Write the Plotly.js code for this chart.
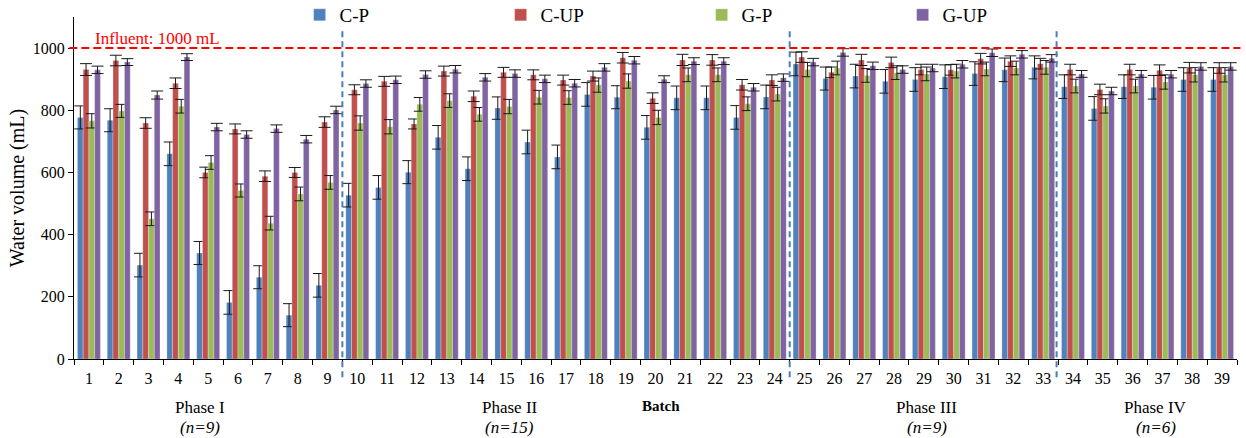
<!DOCTYPE html>
<html>
<head>
<meta charset="utf-8">
<script src="https://cdn.plot.ly/plotly-3.0.1.min.js"></script>
<style>
  html, body { margin: 0; padding: 0; background: #fff; }
  #chart { width: 1246px; height: 438px; }
</style>
</head>
<body>
<div id="chart"></div>
<script>
// Batch numbers (x categories)
const batches = Array.from({length: 39}, (_, i) => String(i + 1));

// Mean effluent water volume per batch (mL)
const cP  = [777,768,302,660,341,182,263,141,237,527,552,601,713,612,807,698,650,851,842,745,840,840,777,843,949,902,910,893,899,908,918,930,938,876,806,876,874,899,899];
const cUP = [931,960,759,887,600,740,588,600,762,866,893,756,926,845,922,914,897,910,969,839,962,962,882,897,971,922,962,954,931,930,966,958,950,931,867,931,929,937,936];
const gP  = [766,798,451,813,632,542,437,531,568,759,747,819,831,787,812,842,841,881,894,777,914,914,821,852,931,936,912,921,917,926,933,936,938,878,814,878,891,914,914];
const gUP = [930,955,849,971,746,722,741,707,801,886,898,915,932,906,918,901,887,938,961,900,958,958,874,905,955,986,943,931,936,948,985,980,967,917,862,917,916,941,941];

// Standard deviations (mL)
const cPErr  = [37,37,38,38,37,38,37,37,38,38,38,37,38,38,36,38,38,38,37,38,38,38,38,38,38,37,38,38,38,38,38,38,37,38,38,38,38,38,38];
const cUPErr = [19,17,17,17,17,16,17,16,17,16,16,16,16,17,16,16,16,16,17,17,18,17,17,17,17,17,18,17,17,17,17,17,17,17,17,17,17,17,17];
const gPErr  = [23,21,22,22,22,21,22,22,22,23,23,22,22,22,23,22,22,23,23,23,22,22,22,22,23,22,22,22,22,22,22,22,22,22,23,22,23,23,23];
const gUPErr = [12,11,13,11,12,12,12,12,12,12,12,12,12,12,12,12,12,12,12,11,11,11,12,12,12,12,12,12,12,12,12,12,12,11,12,11,12,12,12];

const seriesNames = ['C-P', 'C-UP', 'G-P', 'G-UP'];
const seriesColors = ['#4F81BD', '#C0504D', '#9BBB59', '#8064A2'];

// Phase boundaries (between batches 9|10, 24|25, 33|34) and labels
const phaseBreaks = [8.5, 23.5, 32.45];
const phaseLabels = ['Phase I', 'Phase II', 'Phase III', 'Phase IV'];
const phaseCounts = ['(n=9)', '(n=15)', '(n=9)', '(n=6)'];
const phaseLabelPos = [3.72, 14.12, 28.1, 35.77];

const influent = 1000;
const FONT = 'Liberation Serif';

const values = [cP, cUP, gP, gUP];
const errors = [cPErr, cUPErr, gPErr, gUPErr];

const traces = values.map((v, i) => ({
  type: 'bar',
  name: seriesNames[i],
  x: batches,
  y: v,
  marker: { color: seriesColors[i], line: { color: 'rgba(255,255,255,0.45)', width: 0.6 } },
  error_y: { type: 'data', array: errors[i], visible: true, color: '#1a1a1a', thickness: 1, width: 6 }
}));

const shapes = [
  {
    type: 'line', xref: 'paper', yref: 'y',
    x0: -0.004, x1: 1.003, y0: influent, y1: influent,
    line: { color: '#FF0000', width: 2, dash: '8px,4px' }, layer: 'above'
  }
].concat(phaseBreaks.map(b => ({
  type: 'line', xref: 'x', yref: 'paper',
  x0: b, x1: b, y0: -0.053, y1: 0.962,
  line: { color: '#4A7EBB', width: 2, dash: '6px,4px' }, layer: 'above'
})));

const annotations = [
  {
    text: 'Influent: 1000 mL', xref: 'paper', yref: 'y',
    x: 0.016, y: influent, xanchor: 'left', yanchor: 'bottom', yshift: -2,
    showarrow: false, font: { family: FONT, size: 17, color: '#FF0000' }
  },
  {
    text: '<b>Batch</b>', xref: 'x', yref: 'paper', x: 19.2, y: -0.138,
    xanchor: 'center', yanchor: 'middle', showarrow: false,
    font: { family: FONT, size: 15, color: '#000' }
  }
];
phaseLabels.forEach((t, i) => {
  annotations.push({
    text: t, xref: 'x', yref: 'paper', x: phaseLabelPos[i], y: -0.143,
    xanchor: 'center', yanchor: 'middle', showarrow: false,
    font: { family: FONT, size: 17, color: '#000' }
  });
  annotations.push({
    text: '<i>' + phaseCounts[i] + '</i>', xref: 'x', yref: 'paper', x: phaseLabelPos[i], y: -0.199,
    xanchor: 'center', yanchor: 'middle', showarrow: false,
    font: { family: FONT, size: 17, color: '#000' }
  });
});

const layout = {
  width: 1246, height: 438,
  margin: { l: 74, r: 9, t: 17, b: 79, autoexpand: false },
  paper_bgcolor: '#fff', plot_bgcolor: '#fff',
  font: { family: FONT, color: '#000', size: 16 },
  barmode: 'group', bargap: 0.23, bargroupgap: 0,
  showlegend: true,
  legend: {
    orientation: 'h', x: 0.194, xanchor: 'left', xref: 'paper',
    y: 0.9658, yanchor: 'middle', yref: 'container',
    entrywidth: 156, font: { family: FONT, size: 19, color: '#000' },
    bgcolor: 'rgba(0,0,0,0)', traceorder: 'normal'
  },
  xaxis: {
    type: 'category', tickson: 'boundaries', ticks: 'outside', ticklen: 5, tickwidth: 1,
    tickcolor: '#000', showline: true, linecolor: '#000', linewidth: 1,
    showgrid: false, zeroline: false, ticklabelstandoff: 5,
    tickfont: { family: FONT, size: 16, color: '#000' },
    fixedrange: true
  },
  yaxis: {
    range: [0, 1100], tickvals: [0, 200, 400, 600, 800, 1000], ticks: 'outside', ticklen: 5,
    tickcolor: '#000', showline: true, linecolor: '#000', linewidth: 1,
    showgrid: false, zeroline: false, tickfont: { family: FONT, size: 16, color: '#000' },
    title: { text: 'Water volume (mL)', font: { family: FONT, size: 20, color: '#000' }, standoff: 2 },
    fixedrange: true
  },
  shapes: shapes,
  annotations: annotations
};

Plotly.newPlot('chart', traces, layout, { displayModeBar: false, staticPlot: true });
</script>
</body>
</html>
